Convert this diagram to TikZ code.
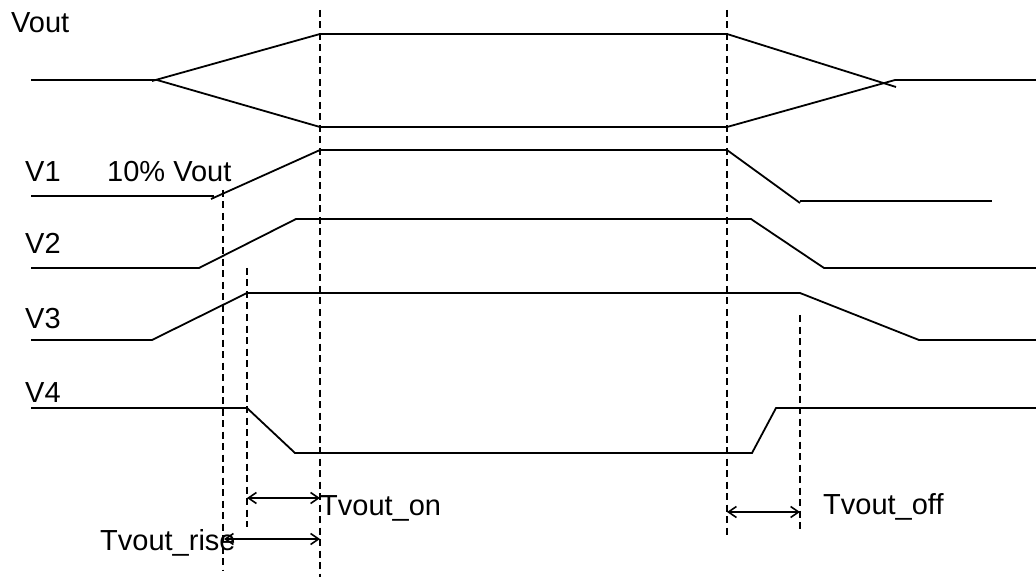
\documentclass[tikz,border=0pt]{standalone}
\usepackage{fontspec}
\setmainfont{Liberation Sans}
\usetikzlibrary{arrows.meta}
\begin{document}
\begin{tikzpicture}[x=1pt,y=-1pt,
  wave/.style={line width=1.8pt,line join=miter},
  guide/.style={line width=1.6pt,dash pattern=on 7pt off 4.5pt},
  span/.style={line width=1.6pt,{Straight Barb[length=8pt,width=11pt]}-{Straight Barb[length=8pt,width=11pt]}},
  lbl/.style={anchor=base west,inner sep=0pt,font=\fontsize{29}{33}\selectfont}]
\useasboundingbox (0,0) rectangle (1036,577);
% labels
\node[lbl] (lvout) at (11,33) {Vout};
\node[lbl] (lv1) at (25,182) {V1};
\node[lbl] (l10) at (107,182) {10\% Vout};
\node[lbl] (lv2) at (25,254) {V2};
\node[lbl] (lv3) at (25,328) {V3};
\node[lbl] (lv4) at (25,402) {V4};
\node[lbl] (lon) at (320,515) {Tvout\_on};
\node[lbl] (lrise) at (100,550) {Tvout\_rise};
\node[lbl] (loff) at (823,514) {Tvout\_off};
% Vout envelope
\draw[wave] (31,80) -- (157,80);
\draw[wave] (152,81) -- (320,34) -- (727,34) -- (896,87);
\draw[wave] (157,80) -- (320,127) -- (727,127) -- (895,80) -- (1036,80);
% V1
\draw[wave] (31,196) -- (214,196);
\draw[wave] (211,199) -- (320,150) -- (727,150) -- (800,203);
\draw[wave] (800,201) -- (992,201);
% V2
\draw[wave] (31,268) -- (199,268) -- (296,219) -- (751,219) -- (824,268) -- (1036,268);
% V3
\draw[wave] (31,340) -- (152,340) -- (247,293) -- (800,293) -- (919,340) -- (1036,340);
% V4
\draw[wave] (31,408) -- (247,408) -- (295,453) -- (752,453) -- (776,408) -- (1036,408);
% guides
\coordinate (g1t) at (223,190); \coordinate (g1b) at (223,570);
\coordinate (g2t) at (247,268); \coordinate (g2b) at (247,527);
\coordinate (g3t) at (320,10);  \coordinate (g3b) at (320,577);
\coordinate (g4t) at (727,10);  \coordinate (g4b) at (727,535);
\coordinate (g5t) at (800,315); \coordinate (g5b) at (800,533);
\draw[guide] (g1t) -- (g1b);
\draw[guide] (g2t) -- (g2b);
\draw[guide] (g3t) -- (g3b);
\draw[guide] (g4t) -- (g4b);
\draw[guide] (g5t) -- (g5b);
% spans
\coordinate (a1) at (247,498); \coordinate (b1) at (320,498);
\coordinate (a2) at (224,539); \coordinate (b2) at (320,539);
\coordinate (a3) at (727,512); \coordinate (b3) at (800,512);
\draw[span] (a1) -- (b1);
\draw[span] (a2) -- (b2);
\draw[span] (a3) -- (b3);
\end{tikzpicture}
\end{document}
